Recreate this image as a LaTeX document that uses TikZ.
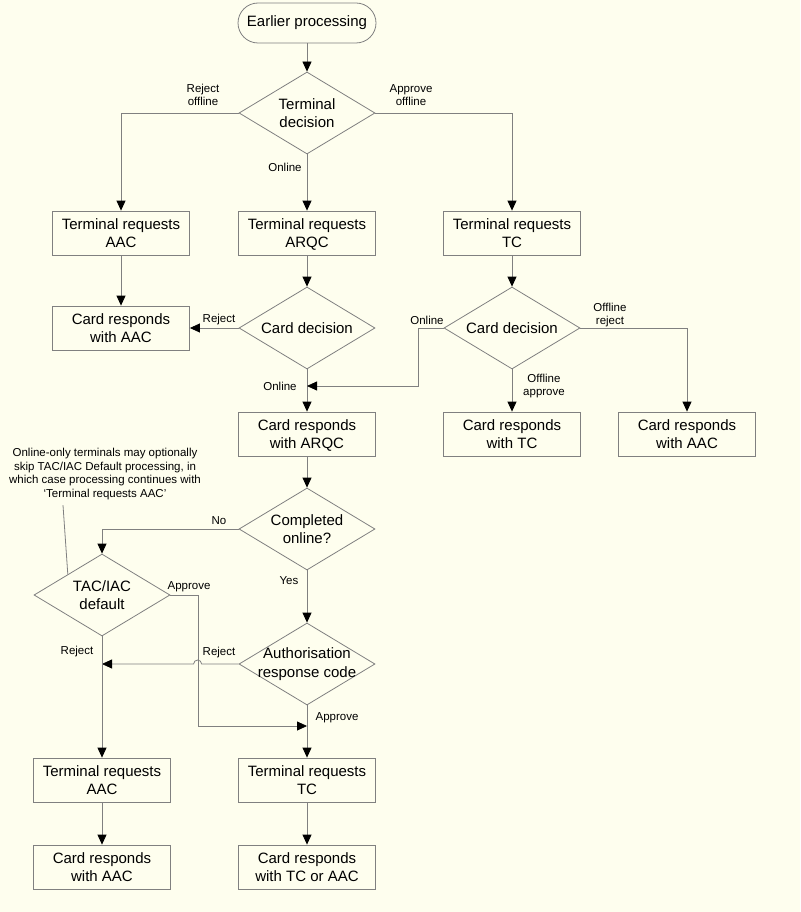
\documentclass[tikz,border=0pt]{standalone}
\usepackage{fontspec}
\setmainfont{Liberation Sans}
\usetikzlibrary{arrows.meta, shapes.geometric}

\definecolor{paper}{RGB}{254,254,238}
\definecolor{wire}{RGB}{128,128,128}

\begin{document}
\begin{tikzpicture}[
  x=1pt, y=-1pt,
  every node/.style = {font=\fontsize{11.5}{13.5}\selectfont},
  startbox/.style = {rectangle, rounded corners=20pt,
                     draw=wire, line width=0.8pt,
                     minimum width=138pt, minimum height=40pt,
                     align=center, font=\fontsize{15}{18.5}\selectfont},
  procbox/.style  = {rectangle, draw=wire, line width=0.8pt,
                     minimum width=137pt, minimum height=44pt,
                     align=center, font=\fontsize{15}{18.5}\selectfont},
  decbox/.style   = {diamond, shape aspect=1.66, inner sep=-4pt,
                     draw=wire, line width=0.8pt,
                     minimum width=136pt, minimum height=82pt,
                     align=center, font=\fontsize{15}{18.5}\selectfont},
  lbl/.style = {align=center},
  arr/.style = {-{Triangle[length=10pt, width=9pt, color=black]},
                draw=wire, line width=0.8pt},
  ln/.style  = {draw=wire, line width=0.8pt},
]

\path[use as bounding box, fill=paper] (0,0) rectangle (800,912);

%% ── Top: terminal decision ────────────────────────────────────────────────
\node[startbox] at (307, 23)  (start)   {Earlier processing};
\node[decbox]   at (307, 113) (tdec)    {Terminal\\decision};

\node[procbox]  at (121, 233) (reqAAC)  {Terminal requests\\AAC};
\node[procbox]  at (307, 233) (reqARQC) {Terminal requests\\AR\smash{Q}C};
\node[procbox]  at (512, 233) (reqTC)   {Terminal requests\\TC};

%% ── Card decisions ────────────────────────────────────────────────────────
\node[procbox]  at (121, 328) (respAAC)  {Card responds\\with AAC};
\node[decbox]   at (307, 328) (cdecA)    {Card decision};
\node[decbox]   at (512, 328) (cdecB)    {Card decision};

\node[procbox]  at (307, 434) (respARQC) {Card responds\\with AR\smash{Q}C};
\node[procbox]  at (512, 434) (respTC)   {Card responds\\with TC};
\node[procbox]  at (687, 434) (respAACb) {Card responds\\with AAC};

%% ── Online completion ─────────────────────────────────────────────────────
\node[decbox]   at (307, 529) (compl)    {Completed\\online?};
\node[decbox]   at (102, 595) (tac)      {TAC/IAC\\default};
\node[decbox]   at (307, 664) (auth)     {Authorisation\\response code};

\node[procbox]  at (102, 780) (reqAACc)  {Terminal requests\\AAC};
\node[procbox]  at (307, 780) (reqTCc)   {Terminal requests\\TC};
\node[procbox]  at (102, 867) (respAACc) {Card responds\\with AAC};
\node[procbox]  at (307, 867) (respTCc)  {Card responds\\with TC or AAC};

%% ── Note ──────────────────────────────────────────────────────────────────
\node[lbl] at (105, 474) (note) {Online-only terminals may optionally\\
  skip TAC/IAC Default processing, in\\
  which case processing continues with\\
  `Terminal requests AAC'};

%% ── Branch labels ─────────────────────────────────────────────────────────
\node[lbl] at (203, 95)  (lRejOff) {Reject\\offline};
\node[lbl] at (411, 95)  (lAppOff) {Approve\\offline};
\node[lbl] at (285, 167) (lOnA)    {Online};
\node[lbl] at (219, 320) (lRejA)   {Reject};
\node[lbl] at (280, 386) (lOnB)    {Online};
\node[lbl] at (427, 320) (lOnC)    {Online};
\node[lbl] at (610, 315) (lOffRej) {Offline\\reject};
\node[lbl] at (544, 386) (lOffApp) {Offline\\approve};
\node[lbl] at (219, 521) (lNo)     {No};
\node[lbl] at (289, 581) (lYes)    {Yes};
\node[lbl] at (189, 587) (lAppT)   {Approve};
\node[lbl] at (219, 653) (lRejR)   {Reject};
\node[lbl] at (77, 652)  (lRejT)   {Reject};
\node[lbl] at (337, 718) (lAppR)   {Approve};

%% ── Join points on the vertical lines ─────────────────────────────────────
\coordinate (onbend)  at (418, 386);
\coordinate (onjoin)  at (307, 386);
\coordinate (rejjoin) at (102, 664);
\coordinate (apbend)  at (198, 726);
\coordinate (apjoin)  at (307, 726);

%% ── Connectors ────────────────────────────────────────────────────────────
\draw[arr] (start)      -- (tdec);
\draw[arr] (tdec.west)  -| (reqAAC);
\draw[arr] (tdec.east)  -| (reqTC);
\draw[arr] (tdec)       -- (reqARQC);

\draw[arr] (reqAAC)     -- (respAAC);
\draw[arr] (reqARQC)    -- (cdecA);
\draw[arr] (reqTC)      -- (cdecB);

\draw[arr] (cdecA)      -- (respAAC);
\draw[arr] (cdecA)      -- (respARQC);
\draw[arr] (cdecB.west) -| (onbend) -- (onjoin);
\draw[arr] (cdecB)      -- (respTC);
\draw[arr] (cdecB.east) -| (respAACb);

\draw[arr] (respARQC)   -- (compl);
\draw[arr] (compl.west) -| (tac);
\draw[arr] (compl)      -- (auth);

% reject hops over the approve line
\draw[arr] (auth.west) -- ++(-37, 0)
  arc[start angle=0, end angle=180, radius=4pt] -- (rejjoin);
\draw[arr] (tac.east) -| (apbend) -- (apjoin);

\draw[arr] (auth)       -- (reqTCc);
\draw[arr] (tac)        -- (reqAACc);
\draw[arr] (reqAACc)    -- (respAACc);
\draw[arr] (reqTCc)     -- (respTCc);

\draw[ln] (note.south) ++(-42, 2) -- (tac.north west);

\end{tikzpicture}
\end{document}
